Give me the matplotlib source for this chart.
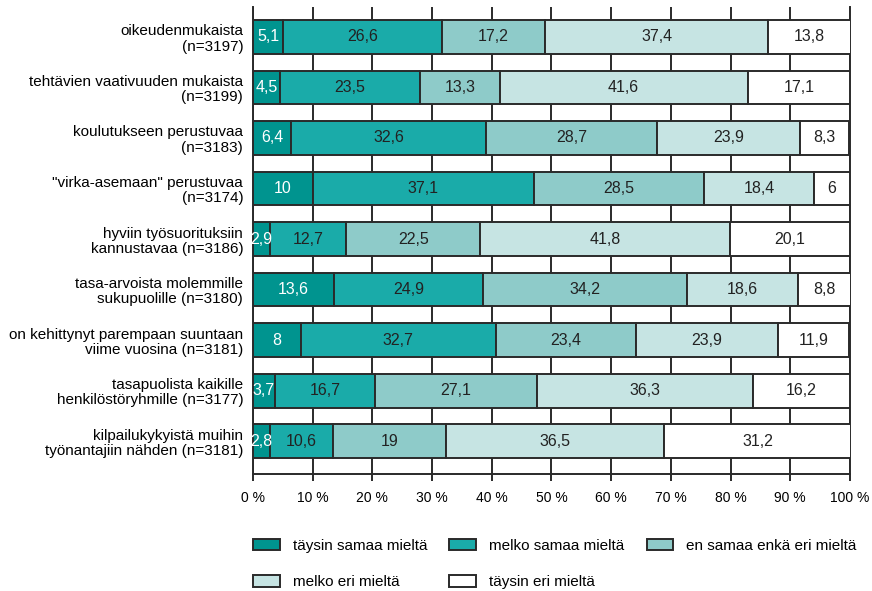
import matplotlib.pyplot as plt
import numpy as np

plt.rcParams['font.family'] = ['Liberation Sans', 'DejaVu Sans']

categories = [
    'oikeudenmukaista\n(n=3197)',
    'tehtävien vaativuuden mukaista\n(n=3199)',
    'koulutukseen perustuvaa\n(n=3183)',
    '"virka-asemaan" perustuvaa\n(n=3174)',
    'hyviin työsuorituksiin\nkannustavaa (n=3186)',
    'tasa-arvoista molemmille\nsukupuolille (n=3180)',
    'on kehittynyt parempaan suuntaan\nviime vuosina (n=3181)',
    'tasapuolista kaikille\nhenkilöstöryhmille (n=3177)',
    'kilpailukykyistä muihin\ntyönantajiin nähden (n=3181)',
]

series_names = ['täysin samaa mieltä', 'melko samaa mieltä', 'en samaa enkä eri mieltä',
                'melko eri mieltä', 'täysin eri mieltä']

taysin_samaa = [5.1, 4.5, 6.4, 10, 2.9, 13.6, 8, 3.7, 2.8]
melko_samaa = [26.6, 23.5, 32.6, 37.1, 12.7, 24.9, 32.7, 16.7, 10.6]
ei_samaa_ei_eri = [17.2, 13.3, 28.7, 28.5, 22.5, 34.2, 23.4, 27.1, 19]
melko_eri = [37.4, 41.6, 23.9, 18.4, 41.8, 18.6, 23.9, 36.3, 36.5]
taysin_eri = [13.8, 17.1, 8.3, 6, 20.1, 8.8, 11.9, 16.2, 31.2]

colors = ['#00948f', '#1aaba9', '#8ecbc9', '#c6e4e3', '#ffffff']
text_colors = ['white', '#222222', '#222222', '#222222', '#222222']
edge = '#2a2a2a'

fig = plt.figure(figsize=(8.72, 5.91), dpi=100)
ax = fig.add_axes([0.2901, 0.198, 0.6846, 0.790])

y = np.arange(len(categories))
left = np.zeros(len(categories))
handles = []
for vals, name, col, tcol in zip([taysin_samaa, melko_samaa, ei_samaa_ei_eri, melko_eri, taysin_eri],
                                  series_names, colors, text_colors):
    vals = np.array(vals)
    bars = ax.barh(y, vals, left=left, height=0.67, color=col, edgecolor=edge,
                   linewidth=1.4, zorder=3, label=name)
    handles.append(bars)
    for yi, l, v in zip(y, left, vals):
        ax.text(l + v / 2, yi, f'{v:g}'.replace('.', ','), ha='center', va='center',
                color=tcol, fontsize=11.5, zorder=4)
    left += vals

ax.set_xlim(0, 100)
ax.set_ylim(8.65, -0.59)
ax.set_xticks(np.arange(0, 101, 10))
ax.set_xticklabels([f'{t} %' for t in range(0, 101, 10)], fontsize=10)
ax.set_yticks(y)
ax.set_yticklabels(categories, fontsize=11, linespacing=1.1)
ax.tick_params(axis='y', length=0, pad=7)
ax.tick_params(axis='x', length=5, width=1.4, color=edge, pad=7)
ax.grid(axis='x', color=edge, linewidth=1.4, zorder=0)
ax.spines['top'].set_visible(False)
for s in ['left', 'bottom', 'right']:
    ax.spines[s].set_color(edge)
    ax.spines[s].set_linewidth(1.4)

# legend fills column-first, so reorder to get three entries on the first row
order = [0, 3, 1, 4, 2]
fig.legend([handles[i] for i in order], [series_names[i] for i in order],
           ncol=3, loc='lower left', bbox_to_anchor=(253 / 872, 0.003), frameon=False,
           borderpad=0, borderaxespad=0, fontsize=11, handlelength=1.75, handleheight=0.8,
           handletextpad=0.85, columnspacing=1.45, labelspacing=1.45)

fig.savefig('out.png', dpi=100)
